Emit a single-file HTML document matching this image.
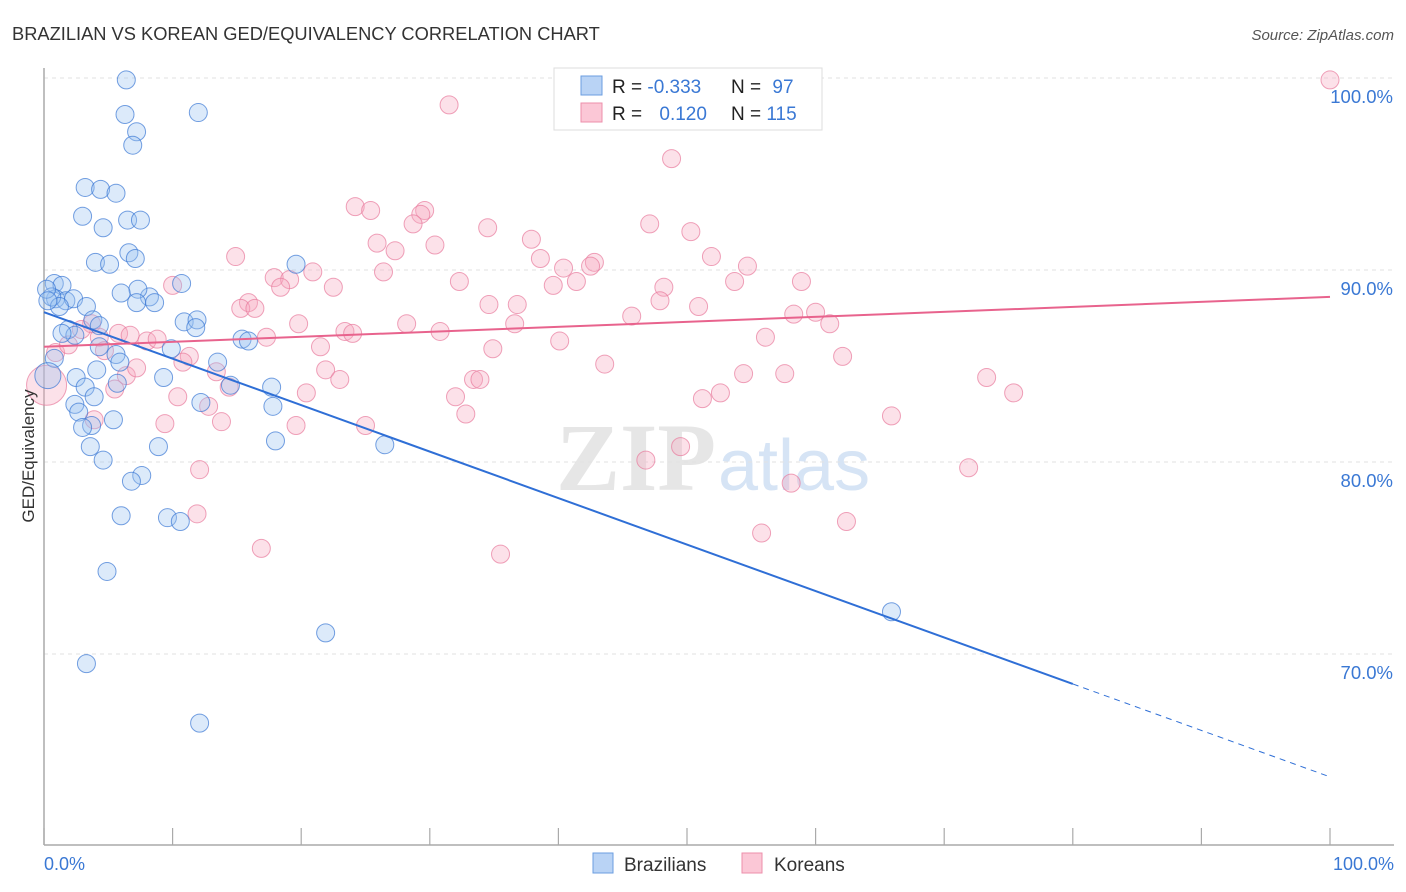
<!DOCTYPE html>
<html><head><meta charset="utf-8"><style>
body{margin:0;background:#fff;font-family:"Liberation Sans",sans-serif;}
svg{display:block}
</style></head><body>
<svg id="chart" width="1406" height="892" xmlns="http://www.w3.org/2000/svg">
<text x="12" y="40" font-size="18.3" fill="#333">BRAZILIAN VS KOREAN GED/EQUIVALENCY CORRELATION CHART</text>
<text x="1394" y="40" font-size="15" fill="#555" font-style="italic" text-anchor="end">Source: ZipAtlas.com</text>
<text x="716" y="490" font-size="96" fill="#e6e6e6" text-anchor="end" font-family="Liberation Serif,serif" font-weight="bold">ZIP</text>
<text x="718" y="490" font-size="72" fill="#d6e4f5">atlas</text>
<g id="grid"></g>
<g id="axes"></g>
<g id="points"></g>
<g id="trends"></g>
<text transform="translate(34,456) rotate(-90)" font-size="17" fill="#333" text-anchor="middle">GED/Equivalency</text>
<text x="44" y="870" font-size="18" fill="#3a78d4">0.0%</text>
<text x="1394" y="870" font-size="18" fill="#3a78d4" text-anchor="end">100.0%</text>
<g>
<rect x="554" y="68" width="268" height="62" fill="#fff" stroke="#ddd"/>
<rect x="581" y="76" width="21" height="19" fill="#b9d3f5" stroke="#6b9ee0"/>
<rect x="581" y="103" width="21" height="19" fill="#fbc7d6" stroke="#ec8fab"/>
<text x="612" y="93" font-size="19" fill="#222">R = <tspan fill="#3a78d4">-0.333</tspan></text>
<text x="731" y="93" font-size="19" fill="#222">N = <tspan fill="#3a78d4" dx="6">97</tspan></text>
<text x="612" y="120" font-size="19" fill="#222">R = <tspan fill="#3a78d4" dx="12">0.120</tspan></text>
<text x="731" y="120" font-size="19" fill="#222">N = <tspan fill="#3a78d4">115</tspan></text>
</g>
<g>
<rect x="593" y="853" width="20" height="20" fill="#b9d3f5" stroke="#6b9ee0"/>
<text x="624" y="871" font-size="19" fill="#333">Brazilians</text>
<rect x="742" y="853" width="20" height="20" fill="#fbc7d6" stroke="#ec8fab"/>
<text x="774" y="871" font-size="19" fill="#333">Koreans</text>
</g>
</svg>
<script>
const yTicks=[100,90,80,70];
const yTickLabels=["100.0%","90.0%","80.0%","70.0%"];
const xTicks=[0,10,20,30,40,50,60,70,80,90,100];
const blueX=[6.4,6.3,12.0,7.2,6.9,3.2,4.4,5.6,3.0,6.5,7.5,4.6,6.6,7.1,4.0,5.1,19.6,0.8,1.4,10.7,8.2,7.3,6.0,7.2,8.6,0.9,1.7,2.3,3.3,0.6,1.2,3.8,4.3,1.9,2.4,10.9,11.9,11.8,15.4,15.9,1.4,9.9,4.3,5.6,0.8,5.9,13.5,4.1,9.3,2.5,14.5,5.7,17.7,3.2,3.9,12.2,17.8,2.4,2.7,5.4,3.7,3.0,3.6,18.0,26.5,8.9,4.6,7.6,6.8,9.6,10.6,6.0,4.9,65.9,21.9,3.3,12.1,0.2,0.3,0.3];
const blueY=[99.9,98.1,98.2,97.2,96.5,94.3,94.2,94.0,92.8,92.6,92.6,92.2,90.9,90.6,90.4,90.3,90.3,89.3,89.2,89.3,88.6,89.0,88.8,88.3,88.3,88.5,88.4,88.5,88.1,88.6,88.1,87.4,87.1,86.9,86.6,87.3,87.4,87.0,86.4,86.3,86.7,85.9,86.0,85.6,85.4,85.2,85.2,84.8,84.4,84.4,84.0,84.1,83.9,83.9,83.4,83.1,82.9,83.0,82.6,82.2,81.9,81.8,80.8,81.1,80.9,80.8,80.1,79.3,79.0,77.1,76.9,77.2,74.3,72.2,71.1,69.5,66.4,89.0,88.4,84.5];
const pinkX=[100,40.7,31.5,48.8,24.2,25.4,29.6,29.3,28.7,47.1,34.5,50.3,37.9,25.9,27.3,30.4,14.9,38.6,51.9,42.8,42.5,40.4,54.7,26.4,20.9,17.9,19.1,32.3,41.4,18.4,53.7,58.9,22.5,10.0,48.2,39.6,15.9,15.3,16.4,36.8,34.6,47.9,50.9,60.0,58.3,45.7,61.1,19.8,28.2,36.6,30.8,23.4,24.0,56.1,5.8,6.7,8.0,8.8,3.7,4.3,2.9,4.7,17.3,21.5,40.1,34.9,62.1,11.3,10.8,43.6,21.9,13.4,23.0,33.4,33.9,54.4,57.6,6.4,7.2,73.3,14.4,5.5,20.4,32.0,75.4,52.6,51.2,10.4,12.8,32.8,65.9,13.8,19.6,25.0,9.4,3.9,46.8,49.5,71.9,12.1,58.1,62.4,11.9,55.8,16.9,35.5,0.9,1.9,0.2];
const pinkY=[99.9,99.9,98.6,95.8,93.3,93.1,93.1,92.9,92.4,92.4,92.2,92.0,91.6,91.4,91.0,91.3,90.7,90.6,90.7,90.4,90.2,90.1,90.2,89.9,89.9,89.6,89.5,89.4,89.4,89.1,89.4,89.4,89.1,89.2,89.1,89.2,88.3,88.0,88.0,88.2,88.2,88.4,88.1,87.8,87.7,87.6,87.2,87.2,87.2,87.2,86.8,86.8,86.7,86.5,86.7,86.6,86.3,86.4,87.2,86.5,86.9,85.8,86.5,86.0,86.3,85.9,85.5,85.5,85.2,85.1,84.8,84.7,84.3,84.3,84.3,84.6,84.6,84.5,84.9,84.4,83.9,83.8,83.6,83.4,83.6,83.6,83.3,83.4,82.9,82.5,82.4,82.1,81.9,81.9,82.0,82.2,80.1,80.8,79.7,79.6,78.9,76.9,77.3,76.3,75.5,75.2,85.7,86.1,84.0];
const blueTrend=[87.8,63.6];
const pinkTrend=[86.0,88.6];
const blueSolidEnd=80;

const NS="http://www.w3.org/2000/svg";
const X0=44,X1=1330,Y100=78,PX10=192,YB=845;
function sx(v){return X0+(X1-X0)*v/100;}
function sy(v){return Y100+(100-v)*PX10/10;}
function mk(tag,attrs,parent){const e=document.createElementNS(NS,tag);for(const k in attrs)e.setAttribute(k,attrs[k]);parent.appendChild(e);return e;}
const grid=document.getElementById('grid'),axes=document.getElementById('axes'),pts=document.getElementById('points'),tr=document.getElementById('trends');
yTicks.forEach((t,i)=>{
 const l=mk('line',{x1:X0,x2:1394,y1:sy(t),y2:sy(t),stroke:'#e2e2e2','stroke-dasharray':'4,4'},grid);
 
 
 const tx=mk('text',{x:1393,y:sy(t)+25,'font-size':18.5,fill:'#3a78d4','text-anchor':'end'},grid);
 tx.textContent=yTickLabels[i];
 
 
});
const ya=mk('line',{x1:X0,x2:X0,y1:68,y2:YB,stroke:'#aaa','stroke-width':1.5},axes);


const xa=mk('line',{x1:X0,x2:1394,y1:YB,y2:YB,stroke:'#aaa','stroke-width':1.5},axes);


xTicks.forEach(t=>{
 const l=mk('line',{x1:sx(t),x2:sx(t),y1:YB-17,y2:YB,stroke:'#aaa','stroke-width':1.2},axes);
 
 
});
function dots(xs,ys,fill,stroke,name,bigR){
 xs.forEach((x,i)=>{
  const big=(i===xs.length-1);
  const c=mk('circle',{cx:sx(x),cy:sy(ys[i]),r:big?bigR:9,fill:fill,'fill-opacity':0.35,stroke:stroke,'stroke-opacity':0.7,'stroke-width':1},pts);
  
  
 });
}
dots(pinkX,pinkY,'#f7a8c0','#e87a9c','korean-point',20);
dots(blueX,blueY,'#9cc2f0','#3a78d4','brazilian-point',13);
function lerp(a,b,t){return a+(b-a)*t/100;}
const b1=mk('line',{x1:sx(0),y1:sy(blueTrend[0]),x2:sx(blueSolidEnd),y2:sy(lerp(blueTrend[0],blueTrend[1],blueSolidEnd)),stroke:'#2f6fd6','stroke-width':2},tr);


const b2=mk('line',{x1:sx(blueSolidEnd),y1:sy(lerp(blueTrend[0],blueTrend[1],blueSolidEnd)),x2:sx(100),y2:sy(blueTrend[1]),stroke:'#2f6fd6','stroke-width':1,'stroke-dasharray':'6,5'},tr);


const p1=mk('line',{x1:sx(0),y1:sy(pinkTrend[0]),x2:sx(100),y2:sy(pinkTrend[1]),stroke:'#e8638d','stroke-width':2},tr);


</script>
</body></html>
